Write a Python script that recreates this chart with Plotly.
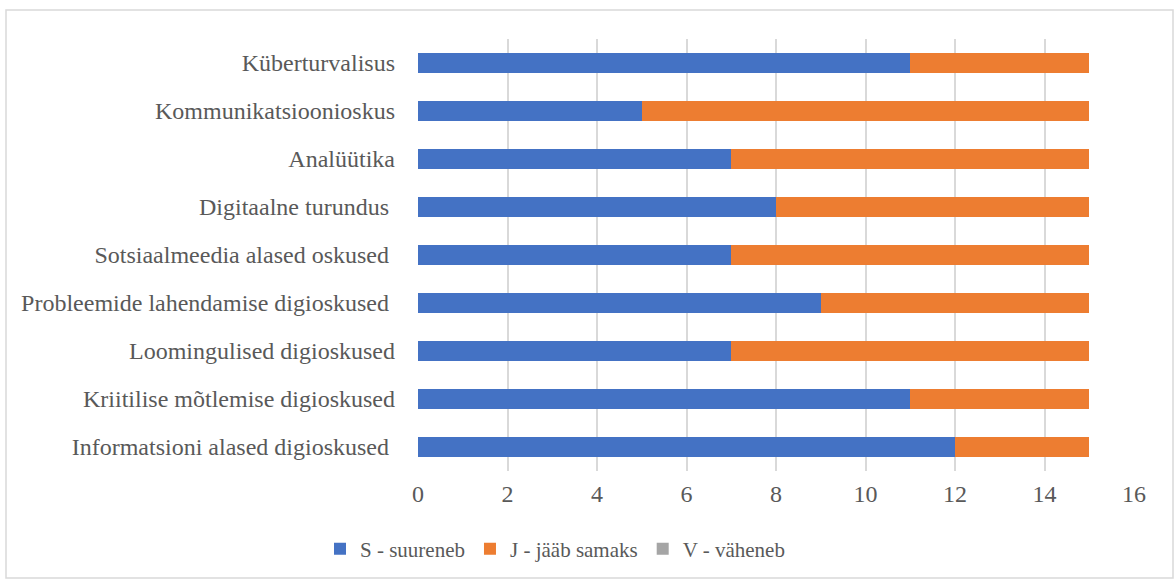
import plotly.graph_objects as go

categories = [
    "Informatsioni alased digioskused ",
    "Kriitilise mõtlemise digioskused",
    "Loomingulised digioskused",
    "Probleemide lahendamise digioskused ",
    "Sotsiaalmeedia alased oskused ",
    "Digitaalne turundus ",
    "Analüütika",
    "Kommunikatsioonioskus",
    "Küberturvalisus",
]
s_values = [12, 11, 7, 9, 7, 8, 7, 5, 11]
j_values = [3, 4, 8, 6, 8, 7, 8, 10, 4]
v_values = [0, 0, 0, 0, 0, 0, 0, 0, 0]
series_names = ["S - suureneb", "J - jääb samaks", "V - väheneb"]
colors = ["#4472C4", "#ED7D31", "#A5A5A5"]
x_ticks = [0, 2, 4, 6, 8, 10, 12, 14, 16]

fig = go.Figure()
for name, vals, col in zip(series_names, [s_values, j_values, v_values], colors):
    fig.add_trace(go.Bar(
        y=categories, x=vals, name=name, orientation="h",
        marker=dict(color=col, line=dict(width=0)), width=0.4,
    ))

W, H = 1174, 579
L, R, T, B = 418, 40, 39, 108
pw, ph = W - L - R, H - T - B

def px_to_paper_x(px):
    return (px - L) / pw

def px_to_paper_y(py):
    return (H - B - py) / ph

FONT = "Liberation Serif"
GRAY = "#595959"

fig.update_layout(
    barmode="stack",
    width=W, height=H,
    margin=dict(l=L, r=R, t=T, b=B, autoexpand=False),
    paper_bgcolor="white", plot_bgcolor="white",
    font=dict(family=FONT, size=24, color=GRAY),
    xaxis=dict(range=[0, 16], tickvals=x_ticks, showgrid=True, gridcolor="#D9D9D9",
               gridwidth=1.5, zeroline=False, showline=False, ticks="",
               ticklabelstandoff=6,
               tickfont=dict(family=FONT, size=24, color=GRAY)),
    yaxis=dict(categoryorder="array", categoryarray=categories, showgrid=False,
               zeroline=False, showline=False, ticks="", ticklen=0,
               ticklabelstandoff=22,
               tickfont=dict(family=FONT, size=24, color=GRAY)),
    legend=dict(orientation="h", x=px_to_paper_x(555), xanchor="center",
                y=px_to_paper_y(549), yanchor="middle",
                font=dict(family=FONT, size=21, color=GRAY), traceorder="normal",
                itemwidth=30),
    shapes=[dict(type="rect", xref="paper", yref="paper",
                 x0=px_to_paper_x(6), x1=px_to_paper_x(1173),
                 y0=px_to_paper_y(578), y1=px_to_paper_y(10),
                 line=dict(color="#D9D9D9", width=1.5), layer="below")],
)
fig.write_html("out.html", config={"displayModeBar": False},
               post_script="document.body.style.margin='0';")
